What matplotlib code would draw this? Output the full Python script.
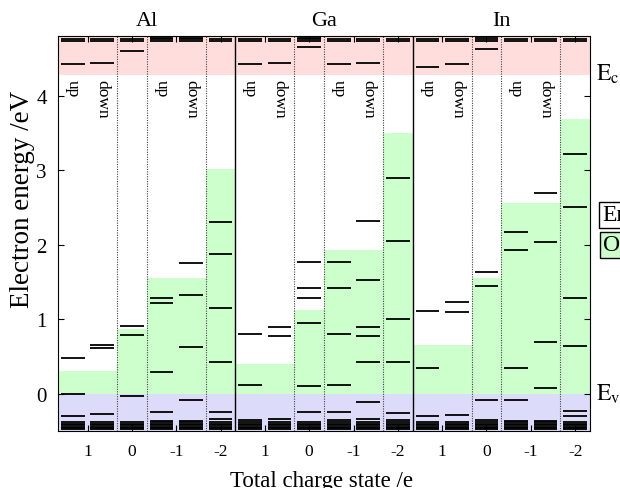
import numpy as np
import matplotlib
matplotlib.use('Agg')
import matplotlib.pyplot as plt
import matplotlib.transforms as mtransforms

plt.rcParams['font.family'] = ['Liberation Serif', 'DejaVu Serif']
plt.rcParams['mathtext.fontset'] = 'stix'

# panels and the sub columns inside one panel
elements = ['Al', 'Ga', 'In']
charge_labels = ['1', '0', '-1', '-2']
spin_labels = ['up', 'down']

e_cbm = 4.28
e_vbm = 0.0
y_lo, y_hi = -0.5, 4.8

# deep valence states and high conduction states seen in every column
deep_levels = [-0.38, -0.40, -0.42, -0.44, -0.46, -0.48]
high_levels = [4.73, 4.76]

# occupied (green) top per sub column: 1up, 1down, 0, -1up, -1down, -2
al_occ = [0.31, 0.31, 0.87, 1.55, 1.55, 3.02]
ga_occ = [0.40, 0.40, 1.12, 1.93, 1.93, 3.50]
in_occ = [0.66, 0.66, 1.55, 2.56, 2.56, 3.68]

# defect levels per sub column
al_levels = [
    [4.42, 0.48, -0.01, -0.30],
    [4.44, 0.65, 0.61, -0.27],
    [4.60, 0.91, 0.79, -0.03],
    [4.78, 1.28, 1.22, 0.29, -0.25, -0.36],
    [4.78, 1.75, 1.33, 0.63, -0.09, -0.36],
    [2.31, 1.87, 1.15, 0.42, -0.24, -0.34],
]
ga_levels = [
    [4.42, 0.80, 0.12, -0.35],
    [4.44, 0.90, 0.78, -0.34],
    [4.78, 4.65, 1.77, 1.42, 1.28, 0.95, 0.10, -0.24],
    [4.42, 1.77, 1.42, 0.80, 0.12, -0.24, -0.35],
    [4.44, 2.32, 1.53, 0.90, 0.78, 0.43, -0.11, -0.34],
    [2.89, 2.05, 1.00, 0.42, -0.26, -0.35],
]
in_levels = [
    [4.39, 1.11, 0.35, -0.30],
    [4.42, 1.23, 1.09, -0.29],
    [4.79, 4.63, 1.64, 1.45, -0.09, -0.35],
    [2.17, 1.93, 0.35, -0.09, -0.36],
    [2.70, 2.04, 0.70, 0.08, -0.36],
    [3.22, 2.51, 1.28, 0.64, -0.23, -0.30],
]

occ_all = [al_occ, ga_occ, in_occ]
levels_all = [al_levels, ga_levels, in_levels]

fig = plt.figure(figsize=(6.2, 4.89), dpi=100)
ax = fig.add_axes([0.0935, 0.1166, 0.858, 0.8077])

# band regions
ax.axhspan(e_cbm, y_hi, color='#ffdddd', lw=0, zorder=0)
ax.axhspan(y_lo, e_vbm, color='#dcdcfa', lw=0, zorder=0)

ncol = 6
xticks = []
xticklabels = []
for p, name in enumerate(elements):
    x0 = p * ncol
    cols = np.arange(ncol) + x0
    ax.bar(cols, occ_all[p], width=1.0, align='edge', bottom=0,
           color='#ccffcc', lw=0, zorder=1)
    for i, lev in enumerate(levels_all[p]):
        lev = list(lev) + deep_levels + high_levels
        ax.hlines(lev, cols[i] + 0.1, cols[i] + 0.9, color='black',
                  lw=1.3, zorder=3)
    # charge state separators
    for off in [2, 3, 5]:
        ax.axvline(x0 + off, color='#444444', ls=(0, (1, 1.2)), lw=0.8,
                   zorder=2)
    if p > 0:
        ax.axvline(x0, color='black', lw=1.0, zorder=2)
    for off, lab in zip([1, 2.5, 4, 5.5], charge_labels):
        xticks.append(x0 + off)
        xticklabels.append(lab)
    for off in [0, 3]:
        for k, s in enumerate(spin_labels):
            ax.text(x0 + off + 0.5 + k, 4.22, s, rotation=270, ha='center',
                    va='top', fontsize=12.5, zorder=4)
    trans = mtransforms.blended_transform_factory(ax.transData, ax.transAxes)
    ax.text(x0 + 3, 1.015, name, transform=trans, ha='center', va='bottom',
            fontsize=16)

ax.set_xlim(0, 3 * ncol)
ax.set_ylim(y_lo, y_hi)
ax.set_xticks(xticks)
ax.set_xticklabels(xticklabels, fontsize=12.5)
ax.set_yticks([0, 1, 2, 3, 4])
ax.set_yticklabels(['0', '1', '2', '3', '4'], fontsize=15)
ax.tick_params(direction='in', length=4, top=True, right=True, pad=8)
ax.tick_params(axis='x', pad=9)
ax.set_xlabel('Total charge state /e', fontsize=16.5)
ax.xaxis.set_label_coords(0.495, -0.1)
ax.set_ylabel('Electron energy /eV', fontsize=19.5)
ax.yaxis.set_label_coords(-0.043, 0.59)

trans_r = mtransforms.blended_transform_factory(ax.transAxes, ax.transData)
ax.text(1.012, e_cbm + 0.02, r'$\mathrm{E_c}$', transform=trans_r,
        ha='left', va='center', fontsize=17)
ax.text(1.012, e_vbm, r'$\mathrm{E_v}$', transform=trans_r,
        ha='left', va='center', fontsize=17)

# legend boxes running off the right edge
fig.text(602 / 620, 1 - 216 / 489, 'Empty', ha='left', va='center',
         fontsize=17, bbox=dict(boxstyle='square,pad=0.12', fc='white',
                                ec='black', lw=1))
fig.text(603 / 620, 1 - 246 / 489, 'Occupied', ha='left', va='center',
         fontsize=17, bbox=dict(boxstyle='square,pad=0.12', fc='#ccffcc',
                                ec='black', lw=1))

fig.savefig('out.png', dpi=100)
